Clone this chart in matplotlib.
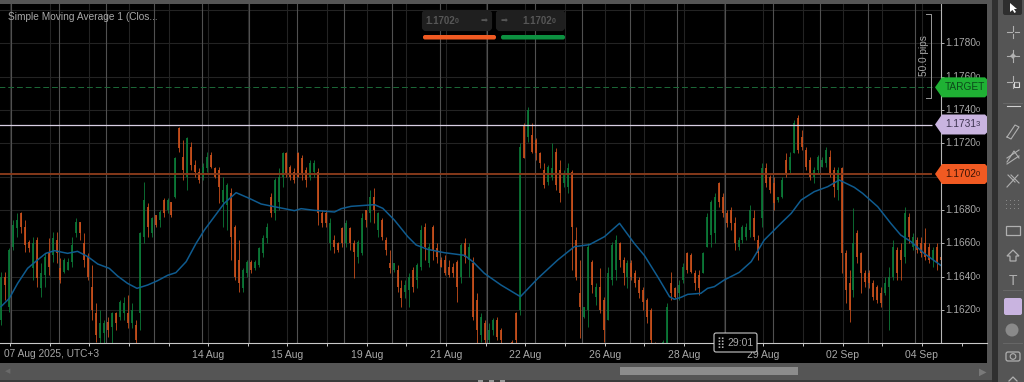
import numpy as np
import matplotlib
matplotlib.use("Agg")
import matplotlib.pyplot as plt
from matplotlib.patches import Polygon, Rectangle, FancyBboxPatch, Circle

plt.rcParams['font.family'] = ['Liberation Sans', 'DejaVu Sans']

# candles, in pips above base_price
base_price = 1.16
highs_pips = [43,43,57,74,78,79,74,62,64,64,48,54,63,67,67,51,51,51,64,75,
    73,66,54,47,24,20,14,16,19,19,26,28,29,24,14,67,97,84,76,77,
    80,87,87,85,112,130,122,124,121,110,105,108,115,115,106,106,100,96,93,71,
    62,45,50,50,50,58,65,72,90,99,105,115,115,107,105,115,113,106,110,110,
    105,80,80,75,65,61,70,74,70,62,62,78,80,92,93,79,75,64,56,48,
    47,38,38,42,46,48,71,72,60,71,60,52,53,50,48,50,60,63,60,52,
    30,18,14,12,15,16,9,-1,-1,2,19,120,132,142,132,123,115,108,107,120,
    117,110,104,108,104,70,50,22,60,50,36,45,28,46,61,65,61,52,50,50,
    44,40,34,27,21,1,-1,2,24,43,34,38,48,55,54,44,44,55,78,86,
    90,97,90,80,82,76,64,71,72,83,80,65,108,108,101,100,88,100,114,115,
    134,137,128,118,112,106,113,112,118,116,106,106,106,56,44,81,68,55,44,44,
    38,35,34,40,46,62,58,60,82,78,66,64,64,69,60,58,60,58]
lows_pips = [11,26,19,56,64,66,55,55,38,34,28,34,41,49,48,36,42,44,46,64,
    62,46,38,14,1,-2,-2,4,-2,8,14,14,9,9,-2,8,60,64,64,70,
    70,76,78,76,87,115,98,92,104,100,96,98,103,105,99,84,70,68,50,38,
    31,31,40,42,44,46,52,60,76,74,80,94,100,98,96,100,98,94,98,100,
    71,70,70,56,54,55,58,58,56,39,48,53,70,73,72,64,62,53,42,43,
    31,22,27,22,31,33,44,50,46,50,48,46,41,40,40,25,36,48,40,14,
    -2,1,-2,-2,5,2,-2,-4,-4,-2,-2,17,111,121,114,110,105,93,95,98,
    92,85,94,90,44,38,3,15,10,30,23,18,1,14,35,38,46,35,33,38,
    34,27,20,12,-2,-3,-4,-3,-2,26,27,26,36,42,42,32,29,42,58,58,
    60,82,76,70,68,56,56,60,62,64,62,50,70,94,90,80,85,87,100,102,
    114,114,116,104,98,96,102,106,106,100,88,86,42,24,13,28,48,30,34,33,
    26,24,22,29,8,38,38,38,48,60,56,54,52,50,48,46,44,39]
opens_pips = [14,40,22,58,69,78,70,61,45,62,33,41,54,53,62,45,43,44,49,66,
    73,60,52,34,18,3,6,13,10,18,16,18,18,12,11,18,64,82,66,77,
    74,86,80,85,88,129,112,100,118,107,103,100,105,113,105,104,85,83,90,70,
    50,33,42,49,45,47,54,63,88,78,85,100,114,106,103,114,111,104,100,103,
    103,78,78,60,62,60,69,60,69,60,52,54,80,78,88,68,74,62,48,44,
    44,33,31,32,44,38,46,70,48,70,57,50,50,46,46,49,40,60,50,48,
    26,5,12,2,8,14,8,-2,-2,1,18,20,131,124,125,122,114,104,97,100,
    115,104,96,94,103,62,30,16,20,49,28,34,26,14,38,44,60,50,40,48,
    42,38,32,26,20,0,-3,-2,0,36,33,30,38,54,53,42,41,42,58,65,
    66,96,88,78,80,72,58,62,64,68,75,62,75,105,100,96,86,88,110,104,
    114,135,124,116,110,100,104,106,108,112,104,92,105,54,36,32,66,54,42,42,
    36,34,30,30,34,40,56,56,52,76,58,62,60,60,58,50,58,52]
closes_pips = [40,35,56,71,74,70,59,57,60,39,42,52,46,63,54,38,50,49,59,73,
    66,50,40,20,5,12,12,8,18,12,25,24,12,20,2,66,86,70,75,71,
    79,78,86,77,111,117,104,123,107,103,98,106,112,106,100,94,92,95,64,40,
    36,44,49,44,49,57,63,70,78,98,100,114,102,100,98,100,102,98,108,108,
    78,72,72,72,58,56,60,72,60,55,61,75,74,88,80,78,64,56,45,48,
    34,27,35,40,34,47,68,58,58,56,52,46,42,41,42,34,59,52,58,16,
    8,16,2,8,14,4,2,-3,-3,-1,2,118,111,140,115,114,108,95,106,105,
    95,90,102,105,70,40,22,22,58,35,34,20,8,42,59,62,50,42,48,40,
    36,30,25,16,2,-2,-2,1,22,30,28,35,46,44,43,36,33,54,76,85,
    88,85,78,72,72,60,62,70,70,80,64,54,105,96,92,84,88,98,102,112,
    132,116,118,106,100,104,112,110,116,102,94,104,54,32,20,60,52,42,37,36,
    28,26,24,36,40,58,42,50,78,64,64,56,54,52,50,56,48,50]

# moving average, read at a set of candle positions
sma_idx = [0,2.1,4.2,6.7,9.2,11.3,13.5,16.8,19.3,21.9,24.4,27.3,29.4,31.9,34.3,37,39.5,42,44.1,46.7,
    49.2,51.3,53.8,56.3,59.3,62.6,65.6,68.9,71.5,74,75.7,79,84.1,85.8,88.3,94.2,96.3,99.2,102.6,104.7,
    107.6,111.8,116.9,119,121.9,126.1,131,135.4,140.4,144.6,148.4,152.2,156,159.7,162.3,165.6,168.6,169.8,171.5,173.2,
    176.5,178.2,179.9,182.4,186.2,189.2,192.5,196.7,199.3,201.8,205.1,208.5,211.4,215.2,217.3,221.1,224.4,226.9,229.5,232.8,237]
sma_pips = [22,27,36,45,50,54,55.6,54,55.2,52,47.6,45,40.4,36,33,35,37.6,40.8,42.4,49,
    60,68,76,84,90.4,87,83.6,82,80.8,79.6,80.8,79.8,78.8,80.8,82.2,83.2,81,74,64,59,
    56.4,54.4,52.8,49,42,35,28,39,50,58,59.2,64,72,60,52.6,40,28,26.4,27.6,29.4,
    30,33,34,38,42.6,49,62,72,78,86,91,94,98,93.6,90,82,72,65,61,54,46.8]

# 1.1700 sits under the orange flag, so it has a tick but no label
price_ticks = [1.1780, 1.1760, 1.1740, 1.1720, 1.1700, 1.1680, 1.1660, 1.1640, 1.1620]
price_labels = [1.1780, 1.1760, 1.1740, 1.1720, 1.1680, 1.1660, 1.1640, 1.1620]
grid_prices = [1.1800, 1.1780, 1.1760, 1.1740, 1.1720, 1.1700, 1.1680, 1.1660, 1.1640, 1.1620]
bid_price = 1.17313
entry_price = 1.17016
target_price = 1.17536

date_labels = ['07 Aug 2025, UTC+3', '', '', '', '', '14 Aug', '', '15 Aug', '', '19 Aug', '', '21 Aug', '',
               '22 Aug', '', '26 Aug', '', '28 Aug', '', '29 Aug', '', '02 Sep', '', '04 Sep', '']

highs = base_price + np.array(highs_pips) / 1e4
lows = base_price + np.array(lows_pips) / 1e4
opens = base_price + np.array(opens_pips) / 1e4
closes = base_price + np.array(closes_pips) / 1e4
sma = base_price + np.array(sma_pips) / 1e4
idx = np.arange(len(highs))

GREEN = '#0c7a38'
ORANGE = '#c9501c'
LILAC = '#c9b4e0'
TEXT = '#a8a8a8'
CHROME = '#555555'

fig = plt.figure(figsize=(10.24, 3.82), dpi=100, facecolor=CHROME)

# chrome behind the chart
bg = fig.add_axes([0, 0, 1, 1], zorder=0)
bg.set_xlim(0, 1024)
bg.set_ylim(382, 0)
bg.axis('off')
bg.add_patch(Rectangle((0, 4), 987, 359, color='black', lw=0))
bg.add_patch(Rectangle((620, 367), 178, 8, color='#8c8c8c', lw=0))
bg.add_patch(Rectangle((992, 0), 6, 382, color='#303030', lw=0))
bg.add_patch(Rectangle((0, 379.5), 992, 3, color='#3a3a3a', lw=0))
for xd in [480, 491, 502]:
    bg.add_patch(Rectangle((xd - 2.5, 379.5), 5, 3, color='#9a9a9a', lw=0))
bg.text(8, 372, '◀', color='#6a6a6a', fontsize=5, ha='center', va='center')
bg.text(983, 372, '▶', color='#7a7a7a', fontsize=7, ha='center', va='center')

# main chart, x in candle index
ax = fig.add_axes([0, 1 - 343 / 382, 987 / 1024, 339 / 382], zorder=1, facecolor='black')
ax.set_xlim(-0.252, 248.67)
ax.set_ylim(1.16002, 1.18036)
for s in ['top', 'left', 'right']:
    ax.spines[s].set_visible(False)
ax.spines['bottom'].set_color('#c8c8c8')
ax.spines['bottom'].set_linewidth(0.8)
ax.set_yticks([])

end_idx = 237.1
date_ticks = np.arange(2.25, 245, 10)
ax.set_xticks(date_ticks)
ax.set_xticklabels([''] + date_labels[1:], color=TEXT, fontsize=7.5)
ax.tick_params(axis='x', length=2.5, width=0.7, color='#c8c8c8', pad=2.5)
ax.annotate(date_labels[0], (-0.252, 1.16002), xytext=(3, -7.8), textcoords='offset points',
            color=TEXT, fontsize=7.3, va='center', ha='left', annotation_clip=False)

# grid and the brighter vertical lines
ax.hlines(grid_prices, -1, end_idx, color='#232323', lw=0.8, zorder=1)
ax.vlines(date_ticks[date_ticks < end_idx], 1.15, 1.19, color='#232323', lw=0.8, zorder=1)
ax.vlines(np.arange(2.6, end_idx, 12), 1.15, 1.19, color='#505050', lw=0.8, zorder=1)
ax.vlines(end_idx, 1.15, 1.19, color='#b5b5b5', lw=0.8, zorder=4)
ax.hlines(price_ticks, end_idx, end_idx + 0.7, color='#b5b5b5', lw=0.7, zorder=4)

# candles
up = closes >= opens
colors = np.where(up, GREEN, ORANGE)
ax.vlines(idx, lows, highs, colors=colors, lw=0.6, zorder=2)
ax.vlines(idx, np.minimum(opens, closes), np.maximum(opens, closes), colors=colors, lw=1.25, zorder=2)

ax.plot(sma_idx, sma, color='#0f5b8f', lw=1.1, zorder=3, solid_joinstyle='round')

# price lines
line_end = 234.9
ax.hlines(bid_price, -1, line_end, color='#d8cfe4', lw=0.9, zorder=3)
ax.hlines(entry_price, -1, line_end, color='#85391a', lw=1.4, zorder=3)
ax.hlines(target_price, -1, line_end, color='#1c6a38', lw=0.7, linestyles=(0, (6, 3)), zorder=3)

# price scale labels
for p in price_labels:
    ax.annotate(f'{p:.4f}', (end_idx, p), xytext=(3.0, 0), textcoords='offset points',
                color=TEXT, fontsize=7.3, va='center', ha='left', annotation_clip=False)
    ax.annotate('0', (end_idx, p), xytext=(24.6, -0.5), textcoords='offset points',
                color=TEXT, fontsize=5.5, va='center', ha='left', annotation_clip=False)

ax.text(0.0081, 0.963, 'Simple Moving Average 1 (Clos...', transform=ax.transAxes,
        color=TEXT, fontsize=7.3, va='center', ha='left')

# flags, widget and tools on top, in pixels
ov = fig.add_axes([0, 0, 1, 1], zorder=2, facecolor='none')
ov.set_xlim(0, 1024)
ov.set_ylim(382, 0)
ov.axis('off')


def price_y(p):
    return 110 + (1.1740 - p) / 0.002 * 33.33


def flag(p, fc, label, small, tc):
    y = price_y(p)
    ov.add_patch(Polygon([(935, y), (942, y - 10), (985, y - 10), (987, y - 8), (987, y + 8),
                          (985, y + 10), (942, y + 10)], closed=True, fc=fc, ec='none', zorder=5))
    ov.text(945, y, label, color=tc, fontsize=7.3, va='center', ha='left', zorder=6)
    if small:
        ov.text(975.5, y + 0.5, small, color=tc, fontsize=5.5, va='center', ha='left', zorder=6)


flag(target_price, '#1fb134', 'TARGET', '', '#0c4a1a')
flag(bid_price, LILAC, '1.1731', '3', '#3c3450')
flag(entry_price, '#f15a22', '1.1702', '0', '#3a1406')

# 50 pips ruler
ov.plot([926, 931, 931, 926], [14, 14, 98, 98], color='#9a9a9a', lw=0.7)
ov.text(924, 56, '50.0 pips', rotation=90, color=TEXT, fontsize=7.3, va='center', ha='center')

# order widget
for x0, w in [(422, 70), (496, 69)]:
    ov.add_patch(FancyBboxPatch((x0 + 2, 12), w - 4, 17, boxstyle='round,pad=0,rounding_size=2',
                                fc='#1f1f1f', ec='#1f1f1f', lw=3))
ov.text(425, 21, '1.1702', color='#565656', fontsize=7, weight='bold', va='center', ha='left')
ov.text(455, 21.5, '0', color='#565656', fontsize=5, weight='bold', va='center', ha='left')
ov.text(484, 21, '➡', color='#565656', fontsize=6, va='center', ha='center')
ov.text(504, 21, '➡', color='#565656', fontsize=6, va='center', ha='center')
ov.text(522, 21, '1.1702', color='#565656', fontsize=7, weight='bold', va='center', ha='left')
ov.text(552, 21.5, '0', color='#565656', fontsize=5, weight='bold', va='center', ha='left')
ov.add_patch(FancyBboxPatch((423, 35), 73, 4.5, boxstyle='round,pad=0,rounding_size=2', fc='#f15a22', ec='none'))
ov.add_patch(FancyBboxPatch((501, 35), 64, 4.5, boxstyle='round,pad=0,rounding_size=2', fc='#0c9040', ec='none'))

# countdown
ov.add_patch(FancyBboxPatch((714, 333), 43, 19, boxstyle='round,pad=0,rounding_size=2',
                            fc='black', ec='#c8c8c8', lw=0.8, zorder=5))
ov.text(720, 342.5, '⣿', color='#b0b0b0', fontsize=8, va='center', ha='center', zorder=6)
ov.text(741, 342.5, '29:01', color=TEXT, fontsize=7.5, va='center', ha='center', zorder=6)

# toolbar
ic = '#b0b0b0'
ov.add_patch(FancyBboxPatch((1003, -3), 19, 18, boxstyle='round,pad=0,rounding_size=2', fc='#2e2e2e', ec='none'))
ov.add_patch(Polygon([(1010, 3), (1010, 12), (1012.5, 10), (1014.5, 13), (1016, 12), (1014, 9), (1017, 9)],
                     closed=True, fc='white', ec='none'))
for yc, kind in [(32, 'cross'), (56, 'cross2'), (82, 'box')]:
    ov.plot([1007, 1011.5], [yc, yc], color=ic, lw=0.8)
    ov.plot([1014.5, 1019], [yc, yc], color=ic, lw=0.8)
    ov.plot([1013, 1013], [yc - 6, yc - 1.5], color=ic, lw=0.8)
    ov.plot([1013, 1013], [yc + 1.5, yc + 6], color=ic, lw=0.8)
    if kind == 'cross2':
        ov.add_patch(Polygon([(1013, yc - 3), (1016, yc), (1013, yc + 3), (1010, yc)], fc=ic, ec='none'))
    if kind == 'box':
        ov.add_patch(Rectangle((1014, yc), 5, 5, fc='none', ec='#dddddd', lw=0.8))
for ys in [103, 290, 343]:
    ov.plot([1003, 1022], [ys, ys], color='#6a6a6a', lw=0.6)
ov.plot([1007, 1020], [106, 106], color='#d0d0d0', lw=0.8)
ov.plot([1007, 1015, 1019, 1011, 1007], [137, 125, 127, 139, 137], color=ic, lw=0.8)
ov.plot([1007, 1014, 1019], [162, 151, 158], color=ic, lw=0.8)
ov.plot([1007, 1019], [158, 150], color=ic, lw=0.8)
ov.plot([1007, 1019], [164, 156], color=ic, lw=0.8)
ov.plot([1007, 1018], [187, 175], color=ic, lw=0.8)
ov.plot([1011, 1019], [175, 183], color=ic, lw=0.8)
ov.plot([1008, 1015], [175, 182], color=ic, lw=0.8)
for yd in [200, 204, 208]:
    for xd in [1006, 1010, 1014, 1018]:
        ov.add_patch(Rectangle((xd, yd), 1.4, 1.4, fc='#888888', ec='none'))
ov.add_patch(Rectangle((1006, 226), 14, 9, fc='none', ec=ic, lw=0.9))
ov.add_patch(Polygon([(1013, 250), (1019, 256), (1016, 256), (1016, 261), (1010, 261), (1010, 256), (1007, 256)],
                     fc='none', ec=ic, lw=0.9))
ov.text(1013, 281, 'T', color=ic, fontsize=10, va='center', ha='center')
ov.add_patch(FancyBboxPatch((1004, 298), 18, 17, boxstyle='round,pad=0,rounding_size=2', fc=LILAC, ec='none'))
ov.add_patch(Circle((1012, 330), 6.5, fc='#8a8a8a', ec='none'))
ov.add_patch(FancyBboxPatch((1006, 352), 14, 9, boxstyle='round,pad=0,rounding_size=2', fc='none', ec=ic, lw=0.9))
ov.add_patch(Circle((1013, 356.5), 2.8, fc='none', ec=ic, lw=0.8))
ov.plot([1009, 1013, 1017], [381, 377, 381], color=ic, lw=0.9)

fig.savefig('out.png', dpi=100, facecolor=fig.get_facecolor())
